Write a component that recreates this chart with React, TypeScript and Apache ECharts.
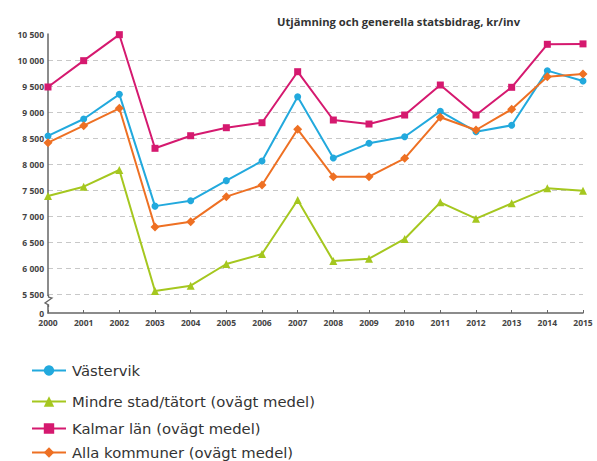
import React, { useEffect, useRef } from "react";
import * as echarts from "echarts";

const years = ["2000","2001","2002","2003","2004","2005","2006","2007","2008","2009","2010","2011","2012","2013","2014","2015"];
const vastervik = [8540, 8865, 9340, 7190, 7295, 7680, 8058, 9295, 8115, 8398, 8525, 9013, 8621, 8744, 9795, 9596];
const mindre = [7385, 7564, 7885, 5558, 5660, 6077, 6269, 7308, 6135, 6179, 6558, 7263, 6949, 7244, 7532, 7487];
const kalmar = [9481, 9987, 10487, 8302, 8544, 8698, 8794, 9775, 8846, 8769, 8942, 9519, 8942, 9475, 10302, 10310];
const alla = [8410, 8737, 9071, 6788, 6891, 7372, 7596, 8667, 7756, 7756, 8109, 8898, 8654, 9052, 9679, 9731];

const seriesNames = [
  "Västervik",
  "Mindre stad/tätort (ovägt medel)",
  "Kalmar län (ovägt medel)",
  "Alla kommuner (ovägt medel)",
];
const title = "Utjämning och generella statsbidrag, kr/inv";
const yMin = 5135; // axis break: bottom of axis is labelled 0
const yMax = 10500;
const yLabelValues = [yMin, 5500, 6000, 6500, 7000, 7500, 8000, 8500, 9000, 9500, 10000, 10500];
const gridValues = [5500, 6000, 6500, 7000, 7500, 8000, 8500, 9000, 9500, 10000];

const colors = ["#22a9dd", "#a5c71f", "#d5196f", "#ee7023"];
const symbols = ["circle", "triangle", "rect", "diamond"];
const symbolSizes = [7, 8, 7, 9];
const legendTops = [358, 389, 416, 440];

export default function App() {
  const ref = useRef<HTMLDivElement>(null);
  useEffect(() => {
    if (!ref.current) return;
    const chart = echarts.init(ref.current, undefined, { renderer: "svg" });
    const data = [vastervik, mindre, kalmar, alla];
    chart.setOption({
      animation: false,
      backgroundColor: "#ffffff",
      title: {
        text: title,
        left: 272,
        top: 11,
        textStyle: { fontSize: 11.2, fontWeight: "bold", color: "#333", fontFamily: "Open Sans" },
      },
      legend: seriesNames.map((name, i) => ({
        orient: "vertical",
        left: 26,
        top: legendTops[i],
        itemWidth: 34,
        itemHeight: 13,
        data: [name],
        textStyle: { fontSize: 14.8, color: "#333", fontFamily: "DejaVu Sans", padding: [0, 0, 0, 1] },
      })),
      grid: { left: 48, right: 14, top: 34, bottom: 148, containLabel: false },
      xAxis: {
        type: "category",
        data: years,
        boundaryGap: false,
        axisLine: { lineStyle: { color: "#666", width: 1.5 } },
        axisTick: { show: true, length: 3, inside: true, lineStyle: { color: "#666" } },
        axisLabel: { fontSize: 8.5, fontWeight: "bold", color: "#444", margin: 5, fontFamily: "Open Sans" },
        splitLine: { show: false },
      },
      yAxis: {
        type: "value",
        min: yMin,
        max: yMax,
        axisLine: { show: true, lineStyle: { color: "#666", width: 1.5 } },
        axisTick: { show: false, customValues: gridValues },
        axisLabel: {
          customValues: yLabelValues,
          fontSize: 8.5,
          fontWeight: "bold",
          color: "#444",
          margin: 4,
          fontFamily: "Open Sans",
          formatter: (v: number) => (v < 5200 ? "0" : String(v).replace(/\B(?=(\d{3})+(?!\d))/g, " ")),
        },
        splitLine: { show: true, lineStyle: { color: "#c8c8c8", type: [5, 4], width: 1 } },
      },
      graphic: [
        { type: "rect", shape: { x: 44, y: 296, width: 8, height: 9 }, style: { fill: "#fff" }, z: 100 },
        {
          type: "polyline",
          shape: { points: [[48.5, 295], [48.5, 297], [52, 298], [45, 303], [48.5, 305], [48.5, 307]] },
          style: { stroke: "#666", lineWidth: 1.3, fill: "none" },
          z: 101,
        },
      ],
      series: seriesNames.map((name, i) => ({
        name,
        type: "line",
        data: data[i],
        symbol: symbols[i],
        symbolSize: symbolSizes[i],
        showAllSymbol: true,
        lineStyle: { color: colors[i], width: 2 },
        itemStyle: { color: colors[i] },
        z: 3 + i,
      })),
    });
    return () => chart.dispose();
  }, []);
  return <div ref={ref} style={{ width: 597, height: 461, position: "absolute", left: 0, top: 0 }} />;
}
